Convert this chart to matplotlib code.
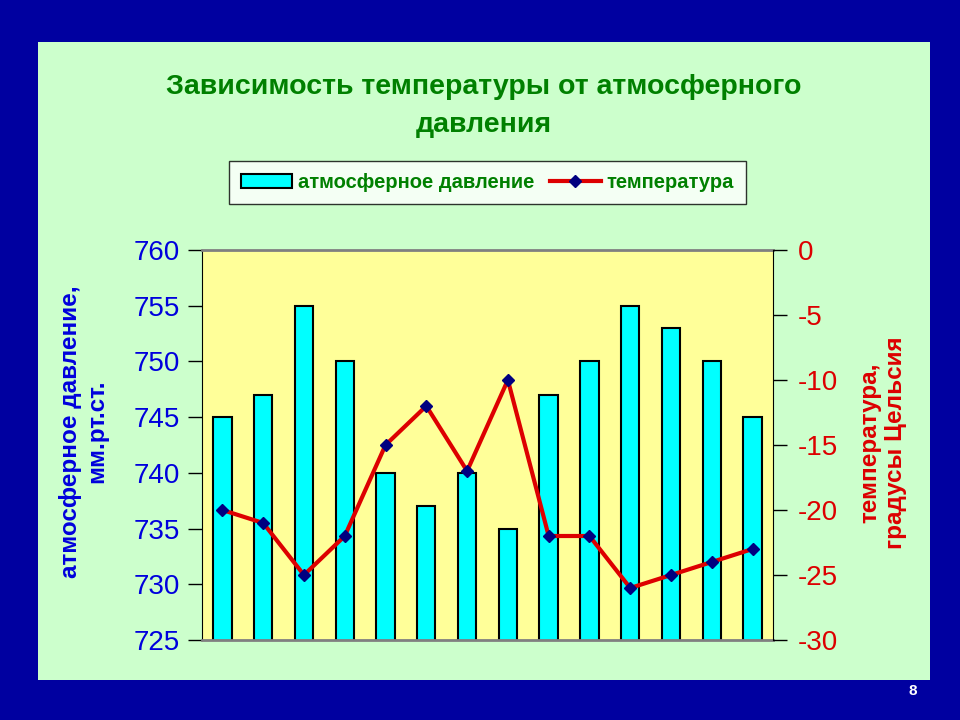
import matplotlib.pyplot as plt
from matplotlib.patches import Rectangle
from matplotlib.lines import Line2D
from matplotlib.patches import Patch

plt.rcParams['font.family'] = ['Liberation Sans', 'DejaVu Sans']
plt.rcParams['axes.unicode_minus'] = False

# данные
months = list(range(1, 15))
pressure = [745, 747, 755, 750, 740, 737, 740, 735, 747, 750, 755, 753, 750, 745]
temperature = [-20, -21, -25, -22, -15, -12, -17, -10, -22, -22, -26, -25, -24, -23]
p_ticks = [725, 730, 735, 740, 745, 750, 755, 760]
t_ticks = [-30, -25, -20, -15, -10, -5, 0]

TITLE = "Зависимость температуры от атмосферного\nдавления"
GREEN = "#008000"
BLUE = "#0000DD"
RED = "#DD0000"

fig = plt.figure(figsize=(9.6, 7.2), dpi=100)
fig.patch.set_facecolor("#0000A0")

# светло-зелёная панель
fig.patches.append(Rectangle((0.0396, 0.0556), 0.929, 0.886, transform=fig.transFigure,
                             facecolor="#CCFFCC", edgecolor="none", zorder=-10))

ax = fig.add_axes([0.2104, 0.1111, 0.5948, 0.5417])
ax.set_facecolor("#FFFF99")
ax.bar(months, pressure, width=0.45, bottom=0, color="#00FFFF", edgecolor="black", linewidth=1.5, zorder=2)
ax.set_ylim(725, 760)
ax.set_xlim(0.5, 14.5)
ax.set_yticks(p_ticks)
ax.set_xticks([])
ax.tick_params(axis="y", direction="out", length=10, width=1, colors="black", labelcolor=BLUE,
               labelsize=20, pad=6)
ax.spines["top"].set_color("#808080")
ax.spines["top"].set_linewidth(2)
ax.spines["bottom"].set_color("#808080")
ax.spines["bottom"].set_linewidth(2)
ax.spines["right"].set_visible(False)
ax.set_ylabel("атмосферное давление,\nмм.рт.ст.", color=BLUE, fontsize=17.5, fontweight="bold",
              linespacing=1.15)
ax.yaxis.set_label_coords(-0.165, 0.535)

ax2 = ax.twinx()
ax2.plot(months, temperature, color=RED, linewidth=3, marker="D", markersize=6,
         markerfacecolor="#000080", markeredgecolor="#000080", zorder=3)
ax2.set_ylim(-30, 0)
ax2.set_yticks(t_ticks)
ax2.tick_params(axis="y", direction="out", length=10, width=1, colors="black", labelcolor=RED,
                labelsize=20, pad=8)
ax2.spines["right"].set_color("black")
ax2.spines["top"].set_visible(False)
ax2.spines["left"].set_visible(False)
ax2.spines["bottom"].set_visible(False)
ax2.set_ylabel("температура,\nградусы Цельсия", color=RED, fontsize=17.5, fontweight="bold",
               linespacing=1.15)
ax2.yaxis.set_label_coords(1.149, 0.505)

fig.text(0.504, 0.853, TITLE, ha="center", va="center", color=GREEN, fontsize=20.5,
         fontweight="bold", linespacing=1.6)

handles = [Patch(facecolor="#00FFFF", edgecolor="black", linewidth=1.5),
           Line2D([], [], color=RED, linewidth=3, marker="D", markersize=6,
                  markerfacecolor="#000080", markeredgecolor="#000080")]
leg = fig.legend(handles, ["атмосферное давление", "температура"], loc="center",
                 bbox_to_anchor=(0.508, 0.746), ncol=2, frameon=True, fancybox=False,
                 prop={"size": 14.5, "weight": "bold"}, handlelength=2.5, columnspacing=0.8,
                 handletextpad=0.3, borderpad=0.6)
leg.get_frame().set_edgecolor("black")
leg.get_frame().set_linewidth(1)
for t in leg.get_texts():
    t.set_color(GREEN)

fig.text(0.951, 0.04, "8", color="white", fontsize=11, fontweight="bold", ha="center", va="center")

fig.savefig("out.png", dpi=100, facecolor=fig.get_facecolor())
